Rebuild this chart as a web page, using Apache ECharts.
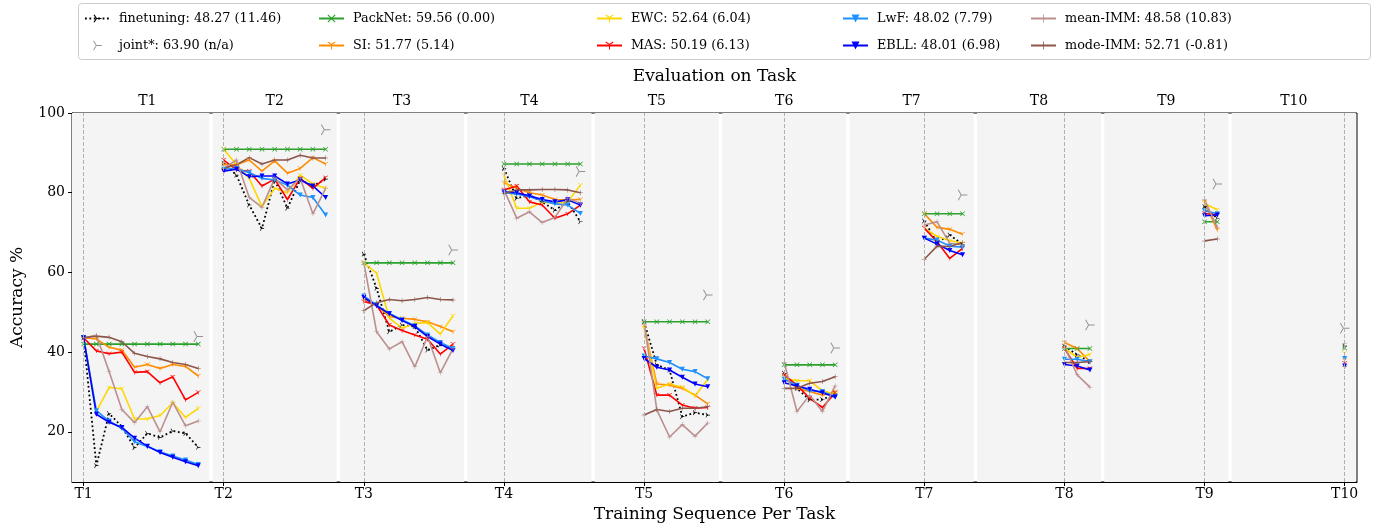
<!DOCTYPE html>
<html><head><meta charset="utf-8">
<script src="https://cdn.jsdelivr.net/npm/echarts@6/dist/echarts.min.js"></script>
<style>html,body{margin:0;padding:0;background:#fff}#c{width:1377px;height:525px}</style>
</head><body><div id="c"></div>
<script>
const tasks = ['T1','T2','T3','T4','T5','T6','T7','T8','T9','T10'];
const seriesNames = [
  'finetuning: 48.27 (11.46)', 'joint*: 63.90 (n/a)',
  'PackNet: 59.56 (0.00)', 'SI: 51.77 (5.14)',
  'EWC: 52.64 (6.04)', 'MAS: 50.19 (6.13)',
  'LwF: 48.02 (7.79)', 'EBLL: 48.01 (6.98)',
  'mean-IMM: 48.58 (10.83)', 'mode-IMM: 52.71 (-0.81)'
];
// each method: accuracy on task Ti after training on Ti..T10
const finetuning = [
  [43.6, 11.5, 24.6, 21.3, 16.0, 19.6, 18.6, 20.2, 19.6, 16.1],
  [87.4, 84.4, 76.9, 71.0, 83.2, 76.1, 83.2, 81.7, 83.4],
  [64.6, 56.0, 45.1, 46.8, 46.4, 40.5, 41.8, 40.9],
  [86.1, 78.6, 79.4, 77.7, 75.6, 77.7, 72.7],
  [47.6, 36.8, 35.5, 23.8, 24.8, 24.2],
  [34.7, 30.9, 28.0, 28.1, 29.5],
  [72.9, 67.5, 69.4, 67.0],
  [41.5, 39.3, 37.6],
  [76.5, 73.6],
  [41.5]
];
const joint = [43.9, 95.8, 65.6, 85.3, 54.3, 41.0, 79.4, 46.8, 82.2, 46.0];
const packnet = [
  [42.0, 42.0, 42.0, 42.0, 42.0, 42.0, 42.0, 42.0, 42.0, 42.0],
  [90.9, 90.9, 90.9, 90.9, 90.9, 90.9, 90.9, 90.9, 90.9],
  [62.4, 62.4, 62.4, 62.4, 62.4, 62.4, 62.4, 62.4],
  [87.2, 87.2, 87.2, 87.2, 87.2, 87.2, 87.2],
  [47.6, 47.6, 47.6, 47.6, 47.6, 47.6],
  [36.8, 36.8, 36.8, 36.8, 36.8],
  [74.7, 74.7, 74.7, 74.7],
  [40.9, 40.9, 40.9],
  [72.7, 72.7],
  [41.0]
];
const si = [
  [43.6, 43.3, 41.2, 40.5, 36.2, 36.9, 35.9, 36.9, 36.4, 34.0],
  [87.0, 87.0, 88.2, 85.4, 88.0, 84.9, 86.1, 88.8, 87.2],
  [53.2, 51.8, 48.9, 48.5, 48.2, 47.6, 46.4, 45.1],
  [82.5, 81.1, 80.0, 79.4, 78.3, 78.2, 78.3],
  [46.5, 32.0, 31.7, 30.9, 29.2, 27.0],
  [33.8, 30.9, 30.1, 29.2, 30.1],
  [74.7, 71.3, 70.8, 69.6],
  [42.4, 40.9, 37.6],
  [77.7, 70.6],
  [37.9]
];
const ewc = [
  [43.6, 25.1, 31.1, 30.8, 23.2, 23.2, 24.1, 27.3, 23.6, 25.9],
  [90.9, 87.0, 83.6, 76.5, 81.1, 80.0, 84.4, 82.2, 81.1],
  [62.4, 59.8, 48.5, 46.0, 47.2, 47.4, 44.5, 49.1],
  [84.4, 76.1, 76.1, 77.7, 77.3, 77.7, 81.9],
  [46.0, 30.9, 32.0, 31.2, 29.0, 33.2],
  [33.4, 32.8, 32.8, 30.3, 29.5],
  [71.1, 69.0, 68.0, 67.3],
  [40.9, 38.7, 39.4],
  [77.3, 75.7],
  [39.7]
];
const mas = [
  [43.6, 40.3, 39.6, 40.0, 34.9, 35.1, 32.3, 33.8, 28.0, 29.9],
  [88.2, 85.7, 85.4, 81.7, 83.4, 78.3, 83.6, 81.1, 83.8],
  [52.7, 51.8, 46.8, 45.4, 44.3, 43.2, 39.5, 42.0],
  [80.7, 81.7, 77.7, 76.9, 73.6, 74.7, 76.9],
  [40.9, 29.2, 29.2, 26.7, 25.9, 26.1],
  [34.3, 31.7, 28.4, 26.1, 29.8],
  [71.1, 67.7, 63.5, 66.0],
  [40.9, 35.9, 35.9],
  [74.8, 74.4],
  [37.2]
];
const lwf = [
  [43.6, 25.3, 22.7, 20.9, 17.5, 16.3, 15.0, 13.9, 12.9, 11.8],
  [85.9, 86.1, 85.0, 83.6, 83.2, 81.9, 79.4, 78.8, 74.4],
  [54.1, 51.8, 49.7, 48.1, 46.6, 44.3, 42.4, 40.9],
  [80.0, 79.7, 79.0, 78.0, 77.2, 76.9, 74.8],
  [39.0, 38.3, 37.4, 35.7, 35.1, 33.3],
  [33.2, 31.7, 30.3, 30.1, 28.8],
  [68.6, 68.1, 66.6, 66.3],
  [38.2, 38.2, 37.6],
  [75.5, 74.7],
  [38.4]
];
const ebll = [
  [43.6, 24.4, 22.4, 21.1, 18.4, 16.4, 14.8, 13.6, 12.5, 11.5],
  [85.4, 85.9, 84.0, 84.2, 84.2, 82.2, 83.2, 81.7, 78.8],
  [53.7, 51.6, 49.6, 47.9, 46.4, 43.9, 42.0, 40.4],
  [80.2, 80.0, 79.2, 78.3, 77.7, 78.2, 76.9],
  [38.4, 36.2, 35.5, 33.7, 32.0, 31.3],
  [32.3, 31.5, 30.7, 29.8, 28.7],
  [68.6, 67.1, 65.5, 64.4],
  [36.9, 36.5, 35.5],
  [74.2, 74.4],
  [36.5]
];
const meanImm = [
  [43.6, 44.2, 35.1, 25.6, 22.3, 26.3, 20.0, 27.4, 21.5, 22.7],
  [86.1, 88.2, 78.8, 76.3, 83.6, 80.7, 83.6, 74.7, 81.1],
  [62.4, 45.1, 40.8, 42.6, 36.3, 43.9, 34.8, 40.9],
  [80.7, 73.6, 75.2, 72.5, 73.8, 78.6, 77.3],
  [47.6, 25.5, 18.7, 21.8, 18.9, 22.2],
  [37.4, 25.1, 29.2, 25.1, 31.5],
  [71.9, 72.7, 67.3, 66.9],
  [41.4, 34.3, 31.2],
  [78.2, 71.3],
  [42.2]
];
const modeImm = [
  [43.6, 44.0, 43.7, 42.6, 39.7, 38.9, 38.3, 37.4, 36.9, 35.9],
  [86.1, 87.0, 88.8, 87.2, 88.2, 88.2, 89.4, 88.7, 88.7],
  [50.4, 52.4, 53.2, 52.9, 53.2, 53.7, 53.2, 53.1],
  [79.8, 80.7, 80.7, 80.8, 80.8, 80.7, 80.0],
  [24.2, 25.6, 25.1, 25.9, 25.9, 26.3],
  [30.9, 30.9, 32.2, 32.6, 33.8],
  [63.3, 66.6, 66.5, 67.5],
  [37.4, 37.4, 37.6],
  [67.9, 68.4],
  [36.4]
];
const yTicks = [20, 40, 60, 80, 100];

// ---------- layout / style ----------
const FONT = 'DejaVu Serif';
const STEP = 1 / 11;          // spacing of training steps inside a panel (axis units)
const XMIN = 0.917, XMAX = 10.088;

function toXY(panels) {
  const out = [];
  panels.forEach((vals, p) => {
    const t = p + 1;
    vals.forEach((v, k) => out.push([t + k * STEP, v]));
    out.push([t + vals.length * STEP, '-']);
  });
  return out;
}
function barsPath(segs, w) {
  let s = '';
  for (const [x1, y1, x2, y2] of segs) {
    const dx = x2 - x1, dy = y2 - y1, L = Math.hypot(dx, dy);
    const px = -dy / L * w, py = dx / L * w;
    const pts = [[x1 + px, y1 + py], [x2 + px, y2 + py], [x2 - px, y2 - py], [x1 - px, y1 - py]];
    s += 'M' + pts.map(p => p[0].toFixed(2) + ' ' + p[1].toFixed(2)).join('L') + 'Z';
  }
  return 'path://' + s;
}
const R = 10;
const TRI_DOWN = barsPath([[0, 0, 0, R], [0, 0, 0.866 * R, -0.5 * R], [0, 0, -0.866 * R, -0.5 * R]], 1.1);
const TRI_RIGHT = barsPath([[0, 0, R, 0], [0, 0, -0.5 * R, 0.866 * R], [0, 0, -0.5 * R, -0.866 * R]], 1.2);
const TRI_RIGHT_THIN = barsPath([[0, 0, R, 0], [0, 0, -0.5 * R, 0.866 * R], [0, 0, -0.5 * R, -0.866 * R]], 0.8);
const PLUS = barsPath([[-R, 0, R, 0], [0, -R, 0, R]], 1.0);
const XMARK = barsPath([[-R, -R, R, R], [-R, R, R, -R]], 1.6);

function lineSeries(name, panels, color, symbol, size, extra) {
  return Object.assign({
    name, type: 'line', data: toXY(panels), z: 3,
    showSymbol: true, showAllSymbol: true, symbol, symbolSize: size, symbolKeepAspect: true,
    lineStyle: { color, width: 1.6 }, itemStyle: { color },
    emphasis: { disabled: true }, connectNulls: false
  }, extra || {});
}

const PW = 10 * STEP; // panel width in axis units
const panelAreas = tasks.map((t, p) => {
  const s = p === 0 ? XMIN : 1 + p * PW + 0.012;
  const e = Math.min(1 + (p + 1) * PW - 0.012, XMAX);
  return [{ xAxis: s }, { xAxis: e }];
});
const topVals = tasks.map((t, p) => 1 + (p + 0.5) * PW);

const series = [
  { name: 'bg', type: 'line', data: [], z: 1, silent: true,
    markArea: { silent: true, itemStyle: { color: '#f4f4f4' }, data: panelAreas } },
  { name: 'vl', type: 'line', data: [], z: 2, silent: true,
    markLine: { silent: true, symbol: ['none', 'none'], label: { show: false },
      lineStyle: { color: '#b0b0b0', width: 1, type: [4, 2] },
      data: tasks.map((t, p) => ({ xAxis: p + 1 })) } },
  lineSeries(seriesNames[0], finetuning, '#000000', TRI_RIGHT, 5,
    { lineStyle: { color: '#000', width: 1.8, type: [1.8, 2.6] } }),
  { name: seriesNames[1], type: 'scatter', z: 3, symbol: TRI_RIGHT_THIN, symbolSize: 11, symbolKeepAspect: true,
    itemStyle: { color: '#7a7a7a' },
    data: joint.map((v, p) => [p + 1 + (9 - p) * STEP, v]) },
  lineSeries(seriesNames[2], packnet, '#2ca02c', XMARK, 5),
  lineSeries(seriesNames[3], si, '#ff8c00', TRI_DOWN, 5),
  lineSeries(seriesNames[4], ewc, '#ffd700', TRI_DOWN, 5),
  lineSeries(seriesNames[5], mas, '#ff0000', TRI_DOWN, 5),
  lineSeries(seriesNames[6], lwf, '#1e90ff', 'triangle', 5, { symbolRotate: 180 }),
  lineSeries(seriesNames[7], ebll, '#0000ff', 'triangle', 5, { symbolRotate: 180 }),
  lineSeries(seriesNames[8], meanImm, '#bc8f8f', PLUS, 5),
  lineSeries(seriesNames[9], modeImm, '#8c564b', PLUS, 5)
];

const colX = [84, 318, 596, 842, 1030];
const legends = [0, 1, 2, 3, 4].map(c => ({
  data: [seriesNames[2 * c], seriesNames[2 * c + 1]],
  orient: 'vertical', left: colX[c], top: 12, itemWidth: 25, itemHeight: 10, itemGap: 14,
  selectedMode: false, padding: 0,
  textStyle: { fontFamily: FONT, fontSize: 12.8, color: '#000', padding: [0, 0, 0, 4] }
}));

const chart = echarts.init(document.getElementById('c'), null, { renderer: 'canvas' });
chart.setOption({
  animation: false,
  backgroundColor: '#fff',
  textStyle: { fontFamily: FONT },
  graphic: [{ type: 'rect', z: -1, shape: { x: 78.5, y: 3.5, width: 1292, height: 56, r: 3 },
    style: { fill: '#fff', stroke: '#cccccc', lineWidth: 1 } }],
  legend: legends,
  grid: { left: 72, right: 20, top: 113, bottom: 43, outerBoundsMode: 'none', containLabel: false,
    show: true, borderColor: '#000', borderWidth: 1, backgroundColor: '#fff' },
  xAxis: [{
    type: 'value', min: XMIN, max: XMAX, position: 'bottom',
    name: 'Training Sequence Per Task', nameLocation: 'middle', nameGap: 24,
    nameTextStyle: { fontFamily: FONT, fontSize: 17, color: '#000' },
    axisLine: { show: true, lineStyle: { color: '#000' } },
    axisTick: { show: true, length: 4, lineStyle: { color: '#000' }, customValues: [1,2,3,4,5,6,7,8,9,10] },
    axisLabel: { fontFamily: FONT, fontSize: 14, color: '#000', margin: 5,
      customValues: [1,2,3,4,5,6,7,8,9,10], formatter: v => tasks[Math.round(v) - 1] },
    splitLine: { show: false }
  }, {
    type: 'value', min: XMIN, max: XMAX, position: 'top',
    name: 'Evaluation on Task', nameLocation: 'middle', nameGap: 28,
    nameTextStyle: { fontFamily: FONT, fontSize: 17, color: '#000' },
    axisLine: { show: false }, axisTick: { show: false }, splitLine: { show: false },
    axisLabel: { fontFamily: FONT, fontSize: 14, color: '#000', margin: 5,
      customValues: topVals, formatter: v => tasks[Math.round((v - 1) / PW - 0.5)] }
  }],
  yAxis: {
    type: 'value', min: 7.4, max: 100,
    name: 'Accuracy %', nameLocation: 'middle', nameGap: 46, nameRotate: 90,
    nameTextStyle: { fontFamily: FONT, fontSize: 17, color: '#000' },
    axisLine: { show: true, lineStyle: { color: '#000' } },
    axisTick: { show: true, length: 4, lineStyle: { color: '#000' }, customValues: yTicks },
    axisLabel: { fontFamily: FONT, fontSize: 14, color: '#000', margin: 7, customValues: yTicks },
    splitLine: { show: false }
  },
  series
});
</script></body></html>
